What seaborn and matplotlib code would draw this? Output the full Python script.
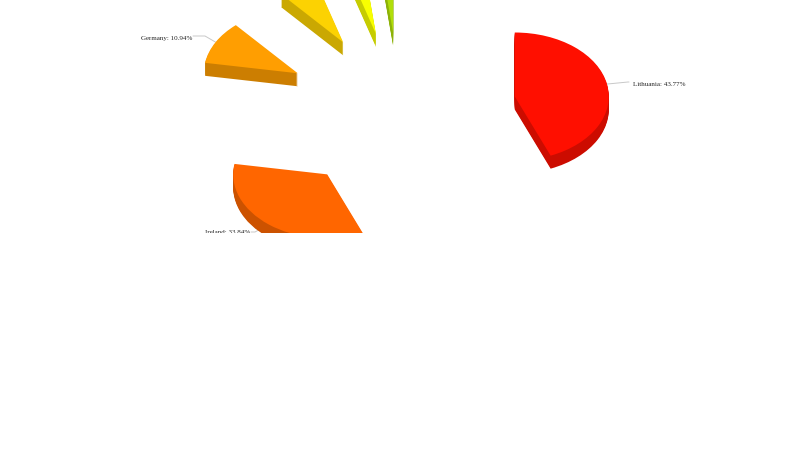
#!/usr/bin/env python3
# exploded 3d pie, cut off at the top and below y=233 like the reference
import numpy as np
import matplotlib
matplotlib.use("Agg")
import matplotlib.pyplot as plt
import seaborn as sns

# data (last three labels are off the canvas)
countries = ["Lithuania", "Ireland", "Germany", "", "", ""]
shares = [43.77, 33.84, 10.94, 6.76, 2.80, 1.89]
colors = ["#FF0F00", "#FF6600", "#FF9E01", "#FCD202", "#F8FF01", "#B0DE09"]

# geometry in pixels, measured on the reference
W, H = 800, 450
visible_h = 233   # nothing is drawn below this line
cx, cy = 400, 112
rx, ry = 94, 64
explode_px = 117
depth_px = 13

sns.set_theme(style="white")
plt.rcParams["font.family"] = ["Liberation Serif", "DejaVu Serif"]

fig = plt.figure(figsize=(W / 100, H / 100), dpi=100, facecolor="white")
ax = fig.add_axes([0, 1 - visible_h / H, 1, visible_h / H])

def px(x, y):
    # canvas pixels to data units
    return (x - cx) / rx, (cy - y) / ry

palette = sns.color_palette(colors)
side = [tuple(0.8 * c for c in col) for col in palette]
explode = [explode_px / rx] * len(shares)

# side wall: stack of darker pies going upwards, then the top face
for d in range(depth_px, 0, -1):
    ax.pie(shares, colors=side, explode=explode, startangle=90, counterclock=False,
           center=(0, -d / ry), radius=1, wedgeprops={"linewidth": 0, "clip_on": True},
           frame=False)
ax.pie(shares, colors=palette, explode=explode, startangle=90, counterclock=False,
       center=(0, 0), radius=1, wedgeprops={"linewidth": 0, "clip_on": True}, frame=False)

ax.set_aspect("auto")
ax.set_xlim(*[px(x, 0)[0] for x in (0, W)])
ax.set_ylim(px(0, visible_h)[1], px(0, 0)[1])
ax.axis("off")

# labels with leader lines; elbow and text positions in pixels
label_pos = {
    "Lithuania": ((628, 82), (633, 84), "left"),
    "Ireland": ((255, 232), (250, 233), "right"),
    "Germany": ((205, 36), (192, 38.5), "right"),
}
edges = np.cumsum([0] + shares) / sum(shares) * 2 * np.pi
for i, name in enumerate(countries):
    if not name:
        continue
    mid = (edges[i] + edges[i + 1]) / 2
    ux, uy = np.sin(mid), np.cos(mid)
    tip = ((1 + explode[i]) * ux, (1 + explode[i]) * uy)
    elbow, text_xy, ha = label_pos[name]
    ex, ey = px(*elbow)
    sx, sy = px(text_xy[0] + (-4 if ha == "left" else 1), elbow[1])
    ax.plot([tip[0], ex, sx], [tip[1], ey, sy], color="#c8c8c8", lw=0.7, zorder=0.5)
    ax.text(*px(*text_xy), f"{name}: {shares[i]:.2f}%", fontsize=5.0, color="#222222",
            ha=ha, va="center", clip_on=True)

fig.savefig("out.png", dpi=100, facecolor="white")
